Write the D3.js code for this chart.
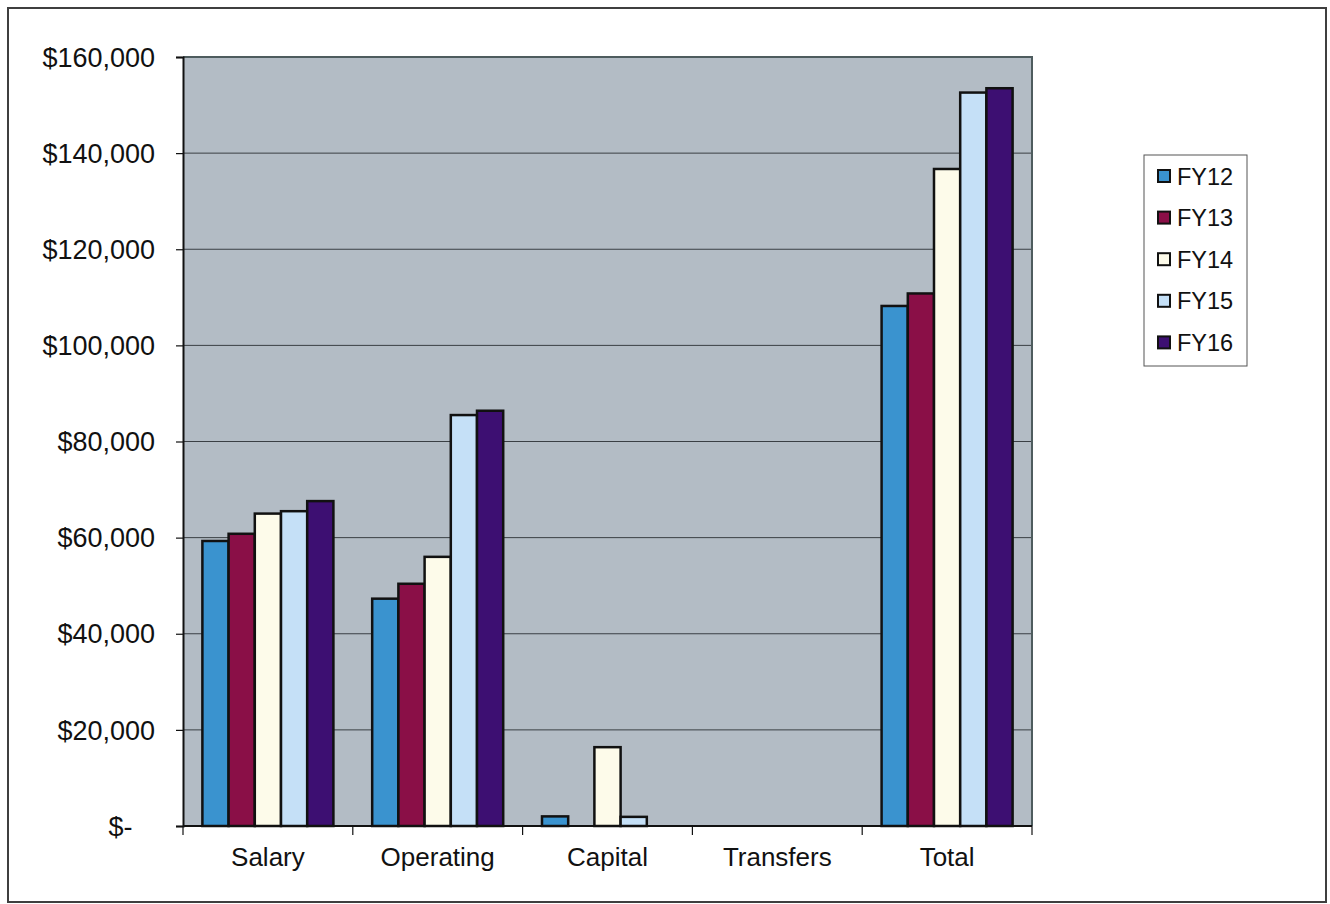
<!DOCTYPE html>
<html>
<head>
<meta charset="utf-8">
<script src="https://cdn.jsdelivr.net/npm/d3@7"></script>
<style>
  html, body { margin: 0; padding: 0; background: #ffffff; }
  svg { display: block; }
  text { font-family: Arial, "Liberation Sans", sans-serif; fill: #111; }
</style>
</head>
<body>
<svg id="chart" width="1330" height="904"></svg>
<script>
// Budget categories and fiscal-year series
const categories = ["Salary", "Operating", "Capital", "Transfers", "Total"];
const seriesNames = ["FY12", "FY13", "FY14", "FY15", "FY16"];
const fy12 = [59300, 47300, 2000, 0, 108200];
const fy13 = [60800, 50400, 0, 0, 110800];
const fy14 = [65000, 56000, 16400, 0, 136700];
const fy15 = [65500, 85500, 1900, 0, 152600];
const fy16 = [67600, 86400, 0, 0, 153500];
const seriesValues = [fy12, fy13, fy14, fy15, fy16];
const seriesColors = ["#3a93cf", "#8a0f47", "#fdfbea", "#c5e0f7", "#3d0f72"];
const yTicks = [0, 20000, 40000, 60000, 80000, 100000, 120000, 140000, 160000];

const svg = d3.select("#chart");

// outer frame
svg.append("rect")
  .attr("x", 8).attr("y", 8).attr("width", 1318).attr("height", 894)
  .attr("fill", "#fff").attr("stroke", "#3f3f3f").attr("stroke-width", 2);

const plot = { left: 183, right: 1032, top: 57, bottom: 826 };

const x0 = d3.scaleBand().domain(categories).range([plot.left, plot.right]).padding(0);
const x1 = d3.scaleBand().domain(seriesNames).range([0, x0.bandwidth()])
  .paddingInner(0).paddingOuter(0.74);
const y = d3.scaleLinear().domain([0, 160000]).range([plot.bottom, plot.top]);

// plot area background
svg.append("rect")
  .attr("x", plot.left).attr("y", plot.top)
  .attr("width", plot.right - plot.left).attr("height", plot.bottom - plot.top)
  .attr("fill", "#b3bcc5");

// horizontal gridlines
svg.append("g").selectAll("line")
  .data(yTicks.filter(d => d > 0 && d < 160000))
  .join("line")
  .attr("x1", plot.left).attr("x2", plot.right)
  .attr("y1", d => y(d)).attr("y2", d => y(d))
  .attr("stroke", "#3a3f44").attr("stroke-width", 1);

// top and right edges of the plot area
svg.append("path")
  .attr("d", `M${plot.left},${plot.top}H${plot.right}V${plot.bottom}`)
  .attr("fill", "none").attr("stroke", "#4e5c5e").attr("stroke-width", 2);

// bars
const groups = svg.append("g").selectAll("g")
  .data(categories)
  .join("g")
  .attr("transform", d => `translate(${x0(d)},0)`);

groups.selectAll("rect")
  .data((c, ci) => seriesNames.map((s, si) => ({ s, si, v: seriesValues[si][ci] })).filter(d => d.v > 0))
  .join("rect")
  .attr("x", d => x1(d.s))
  .attr("y", d => y(d.v))
  .attr("width", x1.bandwidth())
  .attr("height", d => y(0) - y(d.v))
  .attr("fill", d => seriesColors[d.si])
  .attr("stroke", "#111").attr("stroke-width", 2.5);

// y axis
const yAxis = d3.axisLeft(y)
  .tickValues(yTicks)
  .tickSize(7)
  .tickPadding(21)
  .tickFormat(d => d === 0 ? "$-\u00a0\u00a0\u00a0" : "$" + d3.format(",")(d));

const yg = svg.append("g")
  .attr("transform", `translate(${plot.left},0)`)
  .call(yAxis);
yg.select(".domain").attr("stroke", "#111").attr("stroke-width", 2);
yg.selectAll(".tick line").attr("stroke", "#111").attr("stroke-width", 1.2);
yg.selectAll(".tick text")
  .attr("font-size", 27).attr("fill", "#111")
  .attr("font-family", "Arial, 'Liberation Sans', sans-serif")
  .attr("dy", "0.34em");

// x axis: ticks at category boundaries
const xAxisLine = svg.append("g");
xAxisLine.append("line")
  .attr("x1", plot.left).attr("x2", plot.right)
  .attr("y1", plot.bottom).attr("y2", plot.bottom)
  .attr("stroke", "#111").attr("stroke-width", 2);
const bounds = categories.map(c => x0(c)).concat([x0(categories[categories.length - 1]) + x0.bandwidth()]);
xAxisLine.selectAll(".xt")
  .data(bounds)
  .join("line")
  .attr("class", "xt")
  .attr("x1", d => d).attr("x2", d => d)
  .attr("y1", plot.bottom).attr("y2", plot.bottom + 9)
  .attr("stroke", "#111").attr("stroke-width", 1.2);

svg.append("g").selectAll("text")
  .data(categories)
  .join("text")
  .attr("x", d => x0(d) + x0.bandwidth() / 2)
  .attr("y", 866)
  .attr("text-anchor", "middle")
  .attr("font-size", 26)
  .text(d => d);

// legend
const legend = svg.append("g");
legend.append("rect")
  .attr("x", 1144).attr("y", 155).attr("width", 103).attr("height", 211)
  .attr("fill", "#fff").attr("stroke", "#555").attr("stroke-width", 1);

const li = legend.selectAll("g.item")
  .data(seriesNames)
  .join("g")
  .attr("class", "item")
  .attr("transform", (d, i) => `translate(1158,${170 + i * 41.6})`);
li.append("rect")
  .attr("x", 0).attr("y", 0).attr("width", 12).attr("height", 12)
  .attr("fill", (d, i) => seriesColors[i])
  .attr("stroke", "#111").attr("stroke-width", 2);
li.append("text")
  .attr("x", 19).attr("y", 14.5)
  .attr("font-size", 23.5)
  .text(d => d);
</script>
</body>
</html>
